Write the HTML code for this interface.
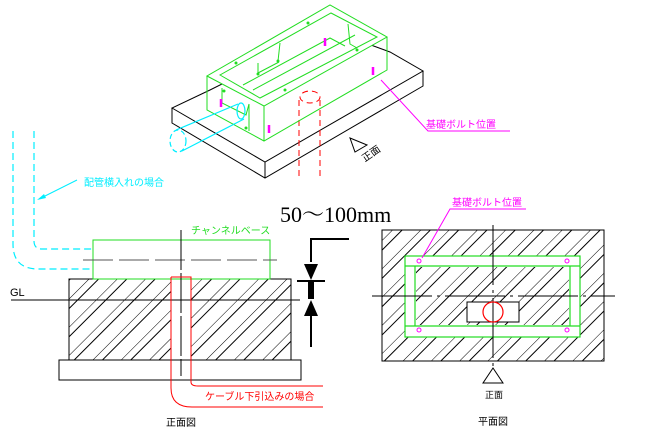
<!DOCTYPE html>
<html><head><meta charset="utf-8"><style>
html,body{margin:0;padding:0;background:#fff;}
svg{display:block;}
text{font-family:"Liberation Sans","Noto Sans CJK JP",sans-serif;}
</style></head><body>
<svg width="647" height="433" viewBox="0 0 647 433" xmlns="http://www.w3.org/2000/svg">
<defs>
<pattern id="h" patternUnits="userSpaceOnUse" width="20" height="20" patternTransform="rotate(45)">
<line x1="0" y1="0" x2="0" y2="20" stroke="#000" stroke-width="1"/>
<line x1="7" y1="0" x2="7" y2="20" stroke="#000" stroke-width="1"/>
</pattern>
</defs>

<!-- ISO VIEW -->
<g fill="none" stroke="#000" stroke-width="1">
<polygon points="172,108 265,162 423,71 390,52 330,30 210,90" fill="#fff"/>
<polyline points="172,108 172,123 265,178 423,86 423,71"/>
<line x1="265" y1="162" x2="265" y2="178"/>
</g>
<g fill="none" stroke="#f00" stroke-width="1" stroke-dasharray="6,4">
<ellipse cx="310" cy="97" rx="10" ry="6"/>
<line x1="299" y1="100" x2="299" y2="180"/>
<line x1="320" y1="100" x2="320" y2="180"/>
</g>
<g fill="none" stroke="#2d2" stroke-width="1">
<polygon points="207,76 264,106 387,37 330,5" fill="#fff"/>
<polyline points="207,76 207,110 264,141 387,70 387,37"/>
<line x1="264" y1="106" x2="264" y2="141"/>
<polygon points="220,75 260,98 377,37 331,13"/>
<polyline points="243,85 330,38 345,46"/>
<polyline points="253,90 355,35"/>
<polyline points="258,63 258,73 279,62"/>
<polyline points="280,43 278,61"/>
<polyline points="348,24 350,44 357,48"/>
<polyline points="222,88 222,103 246,115 249,104"/>
<line x1="249" y1="104" x2="249" y2="131"/>
</g>
<g fill="#2d2">
<circle cx="236" cy="63" r="1.5"/><circle cx="308" cy="23" r="1.5"/><circle cx="278" cy="61" r="1.5"/>
<circle cx="258" cy="74" r="1.5"/><circle cx="357" cy="50" r="1.5"/><circle cx="285" cy="90" r="1.5"/>
<circle cx="246" cy="128" r="1.5"/><circle cx="224" cy="91" r="1.5"/>
</g>
<g stroke="#f0f" stroke-width="2.5">
<line x1="221" y1="99" x2="221" y2="107"/><line x1="269" y1="125" x2="269" y2="133"/>
<line x1="325" y1="38" x2="325" y2="46"/><line x1="373" y1="67" x2="373" y2="75"/>
</g>
<g fill="none" stroke="#0ef" stroke-width="1.2">
<ellipse cx="178" cy="141" rx="8" ry="11" fill="#fff" stroke-dasharray="5,3"/>
<line x1="176" y1="130" x2="238" y2="104"/>
<line x1="182" y1="151" x2="244" y2="119"/>
<ellipse cx="241" cy="111" rx="4" ry="8"/>
</g>
<polygon points="350,138 367,145 355,152" fill="none" stroke="#000"/>
<text x="362" y="163" font-size="10" transform="rotate(-35 362 158)">正面</text>
<g stroke="#f0f" fill="none"><polyline points="381,80 428,131 510,131"/></g>
<text x="426" y="128" font-size="10" fill="#f0f">基礎ボルト位置</text>

<g fill="none" stroke="#0ef" stroke-width="1.2" stroke-dasharray="7,4">
<path d="M13,131 V244 Q13,269 38,269 H93"/>
<path d="M34,131 V241 Q34,249 42,249 H93"/>
</g>
<line x1="77" y1="180" x2="39" y2="199" stroke="#0ef"/>
<polygon points="37,200 44,194 46,198" fill="#0ef"/>
<text x="84" y="186" font-size="10" fill="#0ef">配管横入れの場合</text>

<!-- FRONT VIEW -->
<rect x="69" y="279" width="222" height="81" fill="url(#h)" stroke="#000"/>
<rect x="171" y="279" width="20" height="81" fill="#fff"/>
<rect x="69" y="279" width="222" height="81" fill="none" stroke="#000"/>
<rect x="59" y="360" width="242" height="20" fill="#fff" stroke="#000"/>
<rect x="93" y="240" width="177" height="39" fill="#fff" stroke="#2d2"/>
<line x1="83" y1="260" x2="277" y2="260" stroke="#555" stroke-dasharray="30,6"/>
<line x1="11" y1="300" x2="300" y2="300" stroke="#000"/>
<text x="10" y="296" font-size="11">GL</text>
<line x1="181" y1="230" x2="181" y2="376" stroke="#000" stroke-dasharray="40,3"/>
<g fill="none" stroke="#f00">
<path d="M171,277 H191 V382 Q191,386 198,386 H323"/>
<path d="M171,277 V388 Q171,407 192,407 H323"/>
</g>
<text x="205" y="400" font-size="10" fill="#f00">ケーブル下引込みの場合</text>
<text x="191" y="234" font-size="10" fill="#2d2">チャンネルベース</text>
<text x="166" y="426" font-size="10">正面図</text>

<polyline points="349,239 311,239 311,262" fill="none" stroke="#000" stroke-width="2"/>
<polygon points="304,264 318,264 311,280" fill="#000"/>
<line x1="297" y1="281" x2="325" y2="281" stroke="#000" stroke-width="2"/>
<rect x="308" y="281" width="6" height="18" fill="#000"/>
<polygon points="304,316 318,316 311,300" fill="#000"/>
<line x1="311" y1="316" x2="311" y2="347" stroke="#000" stroke-width="2"/>
<text x="280" y="222" font-size="22" style="font-family:'Liberation Serif','Noto Serif CJK SC',serif">50～100mm</text>

<!-- PLAN VIEW -->
<rect x="382" y="230" width="222" height="131" fill="url(#h)" stroke="#000"/>
<g fill="none" stroke="#2d2" stroke-width="1.2">
<rect x="405" y="256" width="175" height="81" fill="#fff"/>
<line x1="405" y1="266" x2="580" y2="266"/>
<line x1="405" y1="326" x2="580" y2="326"/>
<line x1="415" y1="266" x2="415" y2="326"/>
<line x1="570" y1="266" x2="570" y2="326"/>
</g>
<rect x="416" y="267" width="153" height="58" fill="url(#h)"/>
<rect x="467" y="302" width="52" height="20" fill="#fff" stroke="#000"/>
<line x1="372" y1="296" x2="615" y2="296" stroke="#000" stroke-dasharray="60,5,3,5"/>
<line x1="493" y1="225" x2="493" y2="368" stroke="#000" stroke-dasharray="60,5,3,5"/>
<circle cx="493" cy="312" r="10" fill="none" stroke="#f00" stroke-width="1.2"/>
<g fill="none" stroke="#f0f"><circle cx="419" cy="261" r="2"/><circle cx="567" cy="261" r="2"/><circle cx="419" cy="330" r="2"/><circle cx="567" cy="330" r="2"/></g>
<polyline points="422,258 450,209 526,209" fill="none" stroke="#f0f"/>
<text x="452" y="206" font-size="10" fill="#f0f">基礎ボルト位置</text>
<polygon points="493,368 483,383 503,383" fill="#fff" stroke="#000"/>
<text x="485" y="398" font-size="9">正面</text>
<text x="478" y="425" font-size="10">平面図</text>
</svg>
</body></html>
